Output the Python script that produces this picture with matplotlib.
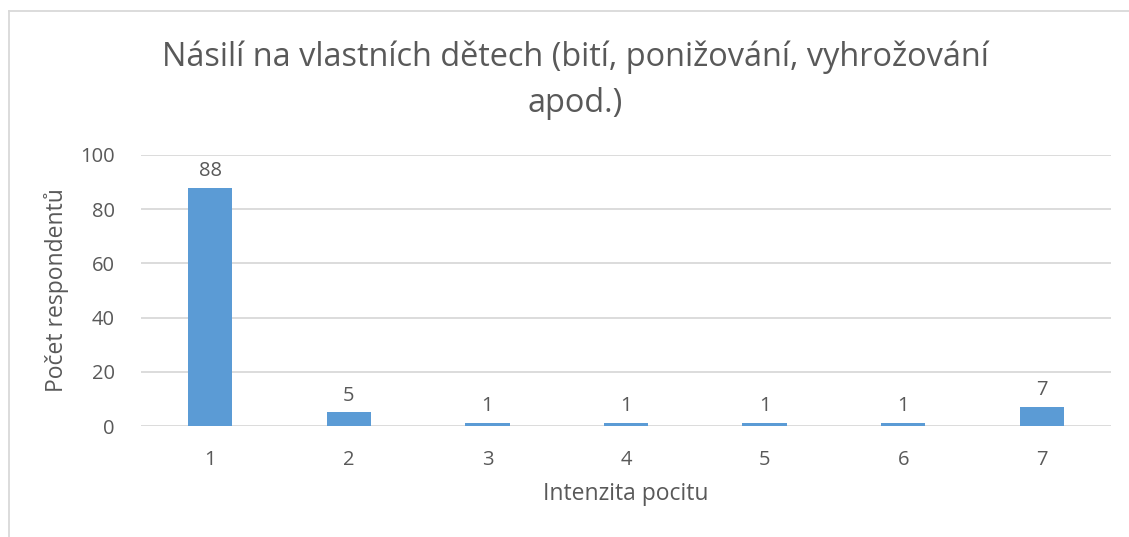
import matplotlib.pyplot as plt
from matplotlib.lines import Line2D
import numpy as np

# data
categories = ['1', '2', '3', '4', '5', '6', '7']
counts = [88, 5, 1, 1, 1, 1, 7]
yticks = [0, 20, 40, 60, 80, 100]

plt.rcParams['font.family'] = ['Open Sans', 'DejaVu Sans']
grey = '#595959'

fig = plt.figure(figsize=(11.29, 5.37), dpi=100)
ax = fig.add_axes([141/1129, 1-426/537, 970/1129, 271/537])

x = np.arange(len(categories))
bars = ax.bar(x, counts, width=0.32, color='#5B9BD5', zorder=3)
for xi, v in zip(x, counts):
    ax.annotate(str(v), (xi, v), xytext=(0, 5), textcoords='offset points',
                ha='center', va='bottom', fontsize=14.5, color=grey)

ax.set_xlim(-0.5, len(categories)-0.5)
ax.set_ylim(0, 100)
ax.set_yticks(yticks)
ax.set_xticks(x)
ax.set_xticklabels(categories)
ax.tick_params(axis='both', length=0, labelsize=14.5, labelcolor=grey)
ax.tick_params(axis='x', pad=17)
ax.tick_params(axis='y', pad=19)
ax.grid(axis='y', color='#d9d9d9', lw=1.3, zorder=0)
for s in ax.spines.values():
    s.set_visible(False)

ax.set_ylabel('Počet respondentů', fontsize=16.5, color=grey, labelpad=8)
ax.set_xlabel('Intenzita pocitu', fontsize=16.5, color=grey, labelpad=9)

fig.text(575/1129, 1-57/537, 'Násilí na vlastních dětech (bití, ponižování, vyhrožování',
         ha='center', va='center', fontsize=23.4, color=grey)
fig.text(575/1129, 1-103/537, 'apod.)',
         ha='center', va='center', fontsize=23.4, color=grey)

# chart area frame, only top and left edges fall inside the picture
fig.add_artist(Line2D([8.5/1129, 8.5/1129], [-0.05, 1-10.5/537], transform=fig.transFigure,
                      color='#d9d9d9', lw=1.3))
fig.add_artist(Line2D([8.5/1129, 1.05], [1-10.5/537, 1-10.5/537], transform=fig.transFigure,
                      color='#d9d9d9', lw=1.3))

plt.savefig('out.png', dpi=100)
